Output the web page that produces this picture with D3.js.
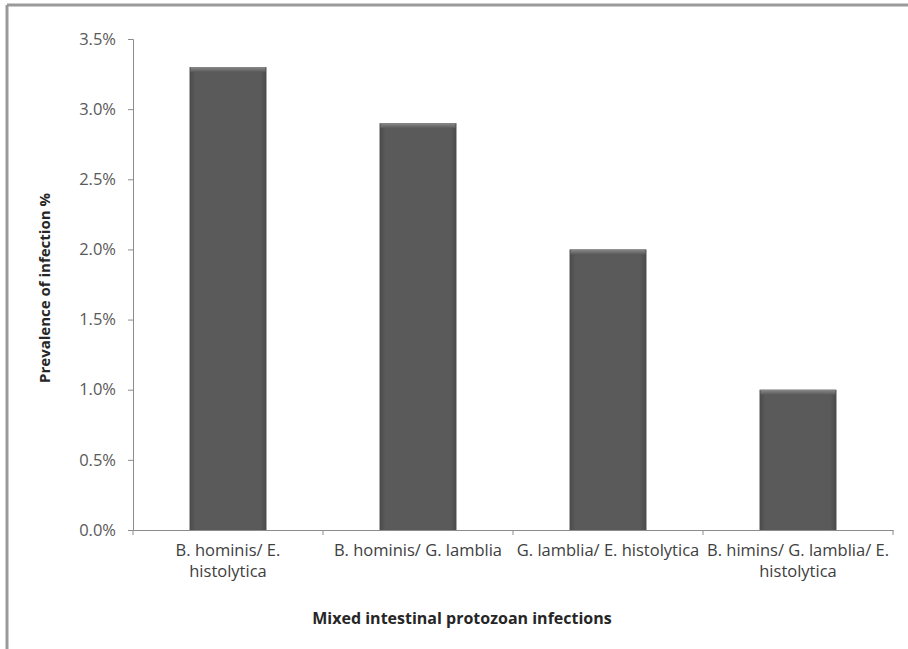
<!DOCTYPE html>
<html><head><meta charset="utf-8">
<script src="https://cdn.jsdelivr.net/npm/d3@7"></script>
<style>body{margin:0;background:#fff}svg{display:block}</style>
</head><body>
<svg id="c" width="908" height="649"></svg>
<script>
const categories = ["B. hominis/ E. histolytica", "B. hominis/ G. lamblia", "G. lamblia/ E. histolytica", "B. himins/ G. lamblia/ E. histolytica"];
const labelLines = [["B. hominis/ E.", "histolytica"], ["B. hominis/ G. lamblia"], ["G. lamblia/ E. histolytica"], ["B. himins/ G. lamblia/ E.", "histolytica"]];
const values = [3.3, 2.9, 2.0, 1.0];
const yTicks = [0, 0.5, 1.0, 1.5, 2.0, 2.5, 3.0, 3.5];
const yTitle = "Prevalence of infection %";
const xTitle = "Mixed intestinal protozoan infections";

const svg = d3.select("#c");
const font = "'Open Sans', Lato, sans-serif";
const L = 133, R = 893, T = 39, B = 530;

// frame
svg.append("line").attr("x1",7).attr("x2",908).attr("y1",5).attr("y2",5).attr("stroke","#9a9a9a").attr("stroke-width",3);
svg.append("line").attr("x1",7).attr("x2",7).attr("y1",5).attr("y2",649).attr("stroke","#9a9a9a").attr("stroke-width",3);

const x = d3.scaleBand().domain(categories).range([L, R]).paddingInner(0.595).paddingOuter(0.2975);
const y = d3.scaleLinear().domain([0, 3.5]).range([B, T]);

const defs = svg.append("defs");
const g1 = defs.append("linearGradient").attr("id","barg").attr("x1","0").attr("x2","1").attr("y1","0").attr("y2","0");
g1.append("stop").attr("offset","0").attr("stop-color","#4a4a4a");
g1.append("stop").attr("offset","0.08").attr("stop-color","#5a5a5a");
g1.append("stop").attr("offset","0.92").attr("stop-color","#5a5a5a");
g1.append("stop").attr("offset","1").attr("stop-color","#4a4a4a");
const g2 = defs.append("linearGradient").attr("id","capg").attr("x1","0").attr("x2","0").attr("y1","0").attr("y2","1");
g2.append("stop").attr("offset","0").attr("stop-color","#8a8a8a");
g2.append("stop").attr("offset","1").attr("stop-color","#5a5a5a");

// bars
svg.append("g").selectAll("rect").data(values).join("rect")
  .attr("x",(d,i)=>x(categories[i])).attr("width",x.bandwidth())
  .attr("y",d=>y(d)).attr("height",d=>B-y(d)).attr("fill","url(#barg)");
svg.append("g").selectAll("rect").data(values).join("rect")
  .attr("x",(d,i)=>x(categories[i])+1).attr("width",x.bandwidth()-2)
  .attr("y",d=>y(d)).attr("height",5).attr("fill","url(#capg)");

// y axis
const ya = svg.append("g").attr("transform",`translate(${L},0)`)
  .call(d3.axisLeft(y).tickValues(yTicks).tickSize(5).tickPadding(12).tickFormat(d=>d.toFixed(1)+"%"));
ya.select(".domain").attr("stroke","#8c8c8c");
ya.selectAll(".tick line").attr("stroke","#8c8c8c");
ya.selectAll(".tick text").attr("font-family",font).attr("font-size",16.5).attr("fill","#595959");

// x axis
const xa = svg.append("g").attr("transform",`translate(0,${B})`)
  .call(d3.axisBottom(x).tickSize(0).tickFormat(""));
xa.select(".domain").attr("stroke","#8c8c8c");
const bounds = d3.range(categories.length+1).map(i=>L + i*x.step());
xa.selectAll(".bt").data(bounds).join("line").attr("class","bt")
  .attr("x1",d=>d).attr("x2",d=>d).attr("y1",0).attr("y2",5).attr("stroke","#8c8c8c");

// category labels
svg.append("g").selectAll("text").data(labelLines).join("text")
  .attr("x",(d,i)=>x(categories[i])+x.bandwidth()/2).attr("y",556)
  .attr("text-anchor","middle").attr("font-family",font).attr("font-size",16.5).attr("fill","#404040")
  .selectAll("tspan").data(d=>d).join("tspan")
  .attr("x",function(){return this.parentNode.getAttribute("x");})
  .attr("dy",(d,j)=>j?21:0).text(d=>d);

// titles
svg.append("text").attr("transform","translate(50,288) rotate(-90)").attr("text-anchor","middle")
  .attr("font-family",font).attr("font-weight","bold").attr("font-size",15).attr("fill","#262626").text(yTitle);
svg.append("text").attr("x",462).attr("y",624).attr("text-anchor","middle")
  .attr("font-family",font).attr("font-weight","bold").attr("font-size",16).attr("fill","#262626").text(xTitle);
</script>
</body></html>
